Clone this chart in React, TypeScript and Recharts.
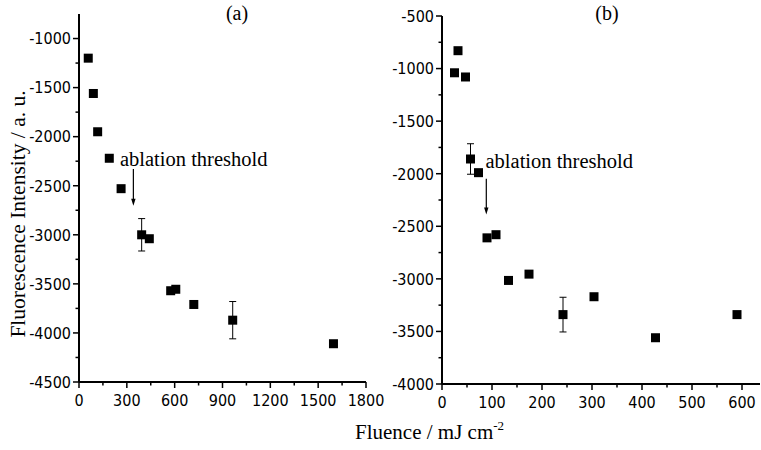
import React from "react";
import {
  ScatterChart,
  Scatter,
  XAxis,
  YAxis,
  ErrorBar,
  ReferenceLine,
  ReferenceDot,
} from "recharts";

// panel (a)
const fluenceA = [58, 90, 117, 190, 264, 393, 441, 575, 607, 720, 964, 1596];
const intensityA = [-1200, -1560, -1950, -2220, -2530, -3000, -3040, -3570, -3555, -3710, -3870, -4110];
const errorA = [0, 0, 0, 0, 0, 165, 0, 0, 0, 0, 190, 0];

// panel (b)
const fluenceB = [25, 32, 47, 57, 73, 90, 108, 133, 174, 242, 304, 427, 590];
const intensityB = [-1040, -830, -1080, -1860, -1990, -2610, -2580, -3015, -2955, -3340, -3170, -3560, -3340];
const errorB = [0, 0, 0, 145, 0, 0, 0, 0, 0, 165, 0, 0, 0];

const xTicksA = [0, 300, 600, 900, 1200, 1500, 1800];
const yTicksA = [-4500, -4000, -3500, -3000, -2500, -2000, -1500, -1000];
const xTicksB = [0, 100, 200, 300, 400, 500, 600];
const yTicksB = [-4000, -3500, -3000, -2500, -2000, -1500, -1000, -500];

// ablation threshold markers: [text x, text y, arrow x, arrow top, arrow bottom]
const thresholdA = [257, -2300, 341, -2330, -2705];
const thresholdB = [87, -1950, 88.6, -2048, -2387];

const TICK_FONT = '"Liberation Sans Narrow", "DejaVu Sans Condensed", "Arial Narrow", sans-serif';
const SERIF = '"Liberation Serif", "Times New Roman", serif';

const toPoints = (xs: number[], ys: number[], errs: number[]) =>
  xs.map((x, i) => ({ x, y: ys[i], err: errs[i] }));

const withMinor = (majors: number[]) =>
  majors.flatMap((v, i) => (i === 0 ? [v] : [(majors[i - 1] + v) / 2, v]));

const Square = (props: any) => (
  <rect x={props.cx - 4.5} y={props.cy - 4.5} width={9} height={9} fill="#000" />
);

const renderXTick = (props: any, majors: number[]) => {
  const { x, y, payload } = props;
  const major = majors.includes(payload.value);
  return (
    <g>
      <line x1={x} x2={x} y1={y} y2={y + (major ? 6 : 3.5)} stroke="#000" strokeWidth={1.5} />
      {major && (
        <text x={x} y={y + 24} textAnchor="middle" fontSize={16} fontFamily={TICK_FONT} fill="#000">
          {payload.value}
        </text>
      )}
    </g>
  );
};

const renderYTick = (props: any, majors: number[]) => {
  const { x, y, payload } = props;
  const major = majors.includes(payload.value);
  return (
    <g>
      <line x1={x} x2={x - (major ? 6 : 3.5)} y1={y} y2={y} stroke="#000" strokeWidth={1.5} />
      {major && (
        <text x={x - 8} y={y + 5.8} textAnchor="end" fontSize={16} fontFamily={TICK_FONT} fill="#000">
          {payload.value}
        </text>
      )}
    </g>
  );
};

const Arrow = (props: any) => {
  const { x1, y1, y2 } = props;
  return (
    <g>
      <line x1={x1} x2={x1} y1={y1} y2={y2 - 6} stroke="#000" strokeWidth={1.2} />
      <polygon points={`${x1 - 2.2},${y2 - 7} ${x1 + 2.2},${y2 - 7} ${x1},${y2}`} fill="#000" />
    </g>
  );
};

const Caption = (props: any) => (
  <text x={props.cx} y={props.cy} fontSize={20.5} fontFamily={SERIF} fill="#000">
    ablation threshold
  </text>
);

interface PanelProps {
  left: number;
  width: number;
  margin: { top: number; right: number; bottom: number; left: number };
  yAxisWidth: number;
  xAxisHeight: number;
  xDomain: number[];
  yDomain: number[];
  xTicks: number[];
  yTicks: number[];
  data: { x: number; y: number; err: number }[];
  threshold: number[];
}

const Panel = (p: PanelProps) => (
  <div style={{ position: "absolute", left: p.left, top: 0 }}>
    <ScatterChart width={p.width} height={450} margin={p.margin}>
      <XAxis
        type="number"
        dataKey="x"
        domain={p.xDomain}
        ticks={withMinor(p.xTicks)}
        interval={0}
        height={p.xAxisHeight}
        tickSize={0}
        tickMargin={0}
        tickLine={false}
        axisLine={{ stroke: "#000", strokeWidth: 2 }}
        tick={(t: any) => renderXTick(t, p.xTicks)}
      />
      <YAxis
        type="number"
        dataKey="y"
        domain={p.yDomain}
        ticks={withMinor(p.yTicks)}
        interval={0}
        width={p.yAxisWidth}
        tickSize={0}
        tickMargin={0}
        tickLine={false}
        axisLine={{ stroke: "#000", strokeWidth: 2 }}
        tick={(t: any) => renderYTick(t, p.yTicks)}
      />
      <ReferenceLine
        segment={[
          { x: p.threshold[2], y: p.threshold[3] },
          { x: p.threshold[2], y: p.threshold[4] },
        ]}
        shape={Arrow}
      />
      <ReferenceDot x={p.threshold[0]} y={p.threshold[1]} r={0} shape={Caption} />
      <Scatter data={p.data} shape={Square} isAnimationActive={false}>
        <ErrorBar dataKey="err" direction="y" width={3.5} stroke="#000" strokeWidth={1} />
      </Scatter>
    </ScatterChart>
  </div>
);

export default function App() {
  return (
    <div
      style={{
        position: "fixed",
        left: 0,
        top: 0,
        width: 761,
        height: 450,
        background: "#fff",
        overflow: "hidden",
      }}
    >
      <Panel
        left={0}
        width={400}
        margin={{ top: 14, right: 34, bottom: 0, left: 0 }}
        yAxisWidth={79}
        xAxisHeight={68}
        xDomain={[0, 1800]}
        yDomain={[-4500, -750]}
        xTicks={xTicksA}
        yTicks={yTicksA}
        data={toPoints(fluenceA, intensityA, errorA)}
        threshold={thresholdA}
      />
      <Panel
        left={380}
        width={381}
        margin={{ top: 16, right: 1, bottom: 0, left: 0 }}
        yAxisWidth={62}
        xAxisHeight={66}
        xDomain={[0, 636]}
        yDomain={[-4000, -500]}
        xTicks={xTicksB}
        yTicks={yTicksB}
        data={toPoints(fluenceB, intensityB, errorB)}
        threshold={thresholdB}
      />
      <svg
        width={761}
        height={450}
        style={{ position: "absolute", left: 0, top: 0, pointerEvents: "none" }}
      >
        <text x={237} y={20} textAnchor="middle" fontSize={20} fontFamily={SERIF} fill="#000">
          (a)
        </text>
        <text x={607} y={20} textAnchor="middle" fontSize={20} fontFamily={SERIF} fill="#000">
          (b)
        </text>
        <text
          x={0}
          y={0}
          transform="translate(25 214) rotate(-90)"
          textAnchor="middle"
          fontSize={21.5}
          fontFamily={SERIF}
          fill="#000"
        >
          Fluorescence Intensity / a. u.
        </text>
        <text x={355} y={439} fontSize={21} fontFamily={SERIF} fill="#000">
          Fluence / mJ cm
          <tspan dy={-9} fontSize={13}>
            -2
          </tspan>
        </text>
      </svg>
    </div>
  );
}
